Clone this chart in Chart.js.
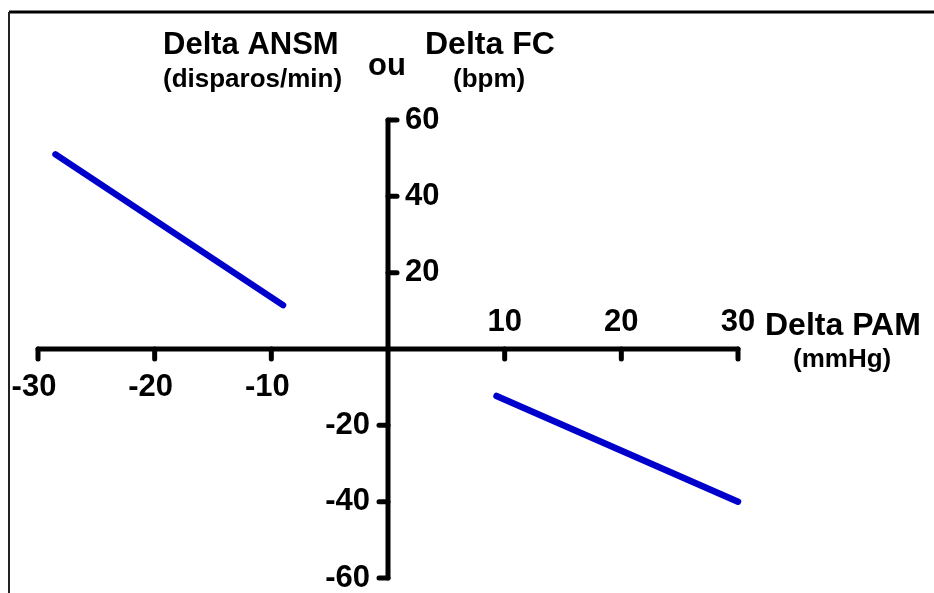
<!DOCTYPE html>
<html>
<head>
<meta charset="utf-8">
<script src="https://cdn.jsdelivr.net/npm/chart.js@4"></script>
<style>
  html, body { margin: 0; padding: 0; background: #fff; }
  #wrap { width: 934px; height: 593px; position: relative; }
</style>
</head>
<body>
<div id="wrap"><canvas id="chart" width="934" height="593"></canvas></div>
<script>
// values
const xTicks = [-30, -20, -10, 10, 20, 30];
const yTicks = [60, 40, 20, -20, -40, -60];
const leftX = [-28.5, -9];
const leftY = [51, 11.5];
const rightX = [9.3, 30];
const rightY = [-12.3, -40];

const FONT = '"Liberation Sans", Arial, sans-serif';

function pts(xs, ys) {
  return xs.map((x, i) => ({ x: x, y: ys[i] }));
}

const axesPlugin = {
  id: 'crossAxes',
  beforeDatasetsDraw(chart) {
    const ctx = chart.ctx;
    const sx = chart.scales.x, sy = chart.scales.y;
    const x0 = sx.getPixelForValue(0), y0 = sy.getPixelForValue(0);
    ctx.save();

    // frame
    ctx.strokeStyle = '#000';
    ctx.lineWidth = 3;
    ctx.beginPath();
    ctx.moveTo(934, 12);
    ctx.lineTo(9, 12);
    ctx.stroke();
    ctx.lineWidth = 2;
    ctx.strokeStyle = '#222';
    ctx.beginPath();
    ctx.moveTo(9, 12);
    ctx.lineTo(9, 593);
    ctx.stroke();

    // axes
    ctx.strokeStyle = '#000';
    ctx.lineWidth = 5;
    ctx.lineCap = 'round';
    ctx.beginPath();
    ctx.moveTo(sx.getPixelForValue(-30), y0);
    ctx.lineTo(sx.getPixelForValue(30), y0);
    ctx.moveTo(x0, sy.getPixelForValue(60));
    ctx.lineTo(x0, sy.getPixelForValue(-60));
    ctx.stroke();

    // tick marks
    xTicks.forEach(v => {
      const px = sx.getPixelForValue(v);
      ctx.beginPath();
      ctx.moveTo(px, y0);
      ctx.lineTo(px, y0 + 10);
      ctx.stroke();
    });
    yTicks.forEach(v => {
      const py = sy.getPixelForValue(v);
      ctx.beginPath();
      ctx.moveTo(x0, py);
      ctx.lineTo(v > 0 ? x0 + 9 : x0 - 9, py);
      ctx.stroke();
    });

    // tick labels
    ctx.fillStyle = '#000';
    ctx.font = 'bold 31px ' + FONT;
    ctx.textBaseline = 'middle';
    xTicks.forEach(v => {
      const px = sx.getPixelForValue(v);
      ctx.textAlign = 'center';
      if (v < 0) ctx.fillText(String(v), px - 4, y0 + 38);
      else ctx.fillText(String(v), px, y0 - 27);
    });
    yTicks.forEach(v => {
      const py = sy.getPixelForValue(v);
      if (v > 0) {
        ctx.textAlign = 'left';
        ctx.fillText(String(v), x0 + 17, py);
      } else {
        ctx.textAlign = 'right';
        ctx.fillText(String(v), x0 - 18, py);
      }
    });
    ctx.restore();
  },
  afterDraw(chart) {
    const ctx = chart.ctx;
    ctx.save();
    ctx.fillStyle = '#000';
    ctx.textBaseline = 'middle';
    ctx.textAlign = 'left';
    ctx.font = 'bold 31px ' + FONT;
    ctx.fillText('Delta ANSM', 163, 45);
    ctx.fillText('ou', 368, 66);
    ctx.font = 'bold 32px ' + FONT;
    ctx.fillText('Delta FC', 425, 45);
    ctx.fillText('Delta PAM', 765, 326);
    ctx.font = 'bold 26px ' + FONT;
    ctx.fillText('(disparos/min)', 163, 80);
    ctx.fillText('(bpm)', 453, 80);
    ctx.fillText('(mmHg)', 793, 360);
    ctx.restore();
  }
};

const lineStyle = {
  showLine: true,
  borderColor: '#0000cc',
  borderWidth: 6.5,
  pointRadius: 0,
  borderCapStyle: 'round',
  fill: false,
  clip: false
};

new Chart(document.getElementById('chart'), {
  type: 'scatter',
  data: {
    datasets: [
      Object.assign({ label: 'left', data: pts(leftX, leftY) }, lineStyle),
      Object.assign({ label: 'right', data: pts(rightX, rightY) }, lineStyle)
    ]
  },
  options: {
    responsive: false,
    animation: false,
    layout: { padding: { left: 38, right: 196, top: 120, bottom: 15 } },
    plugins: { legend: { display: false }, tooltip: { enabled: false } },
    scales: {
      x: { type: 'linear', min: -30, max: 30, display: false },
      y: { type: 'linear', min: -60, max: 60, display: false }
    }
  },
  plugins: [axesPlugin]
});
</script>
</body>
</html>
